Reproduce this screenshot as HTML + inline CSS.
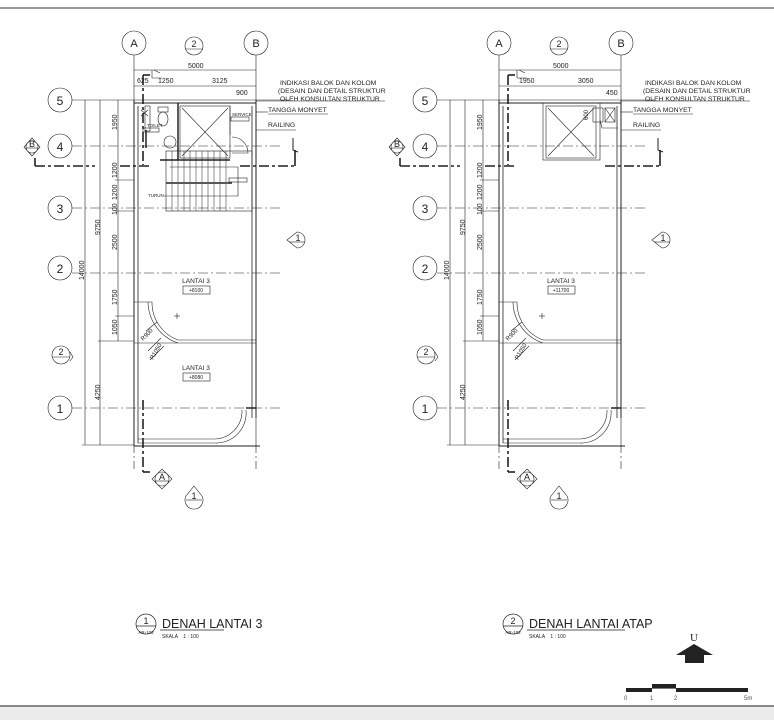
<!DOCTYPE html>
<html><head><meta charset="utf-8"><style>
html,body{margin:0;padding:0;background:#fff;}
svg{display:block;font-family:"Liberation Sans",sans-serif;}
</style></head><body>
<svg width="774" height="720" viewBox="0 0 774 720" xmlns="http://www.w3.org/2000/svg">
<rect width="774" height="720" fill="#fff"/>
<line x1="0" y1="8" x2="774" y2="8" stroke="#333" stroke-width="1"/>
<rect x="0" y="707" width="774" height="13" fill="#ececec"/>
<line x1="0" y1="706" x2="774" y2="706" stroke="#444" stroke-width="1.2"/>

<defs>
<g id="common" fill="none" stroke="#222" stroke-width="0.6">
  <circle cx="134" cy="43" r="12" fill="#fff"/>
  <circle cx="256" cy="43" r="12" fill="#fff"/>
  <circle cx="194" cy="46" r="9" fill="#fff"/>
  <line x1="185" y1="49" x2="203" y2="49"/>
  <line x1="134" y1="55" x2="134" y2="110"/>
  <line x1="256" y1="55" x2="256" y2="110"/>
  <line x1="134" y1="445" x2="134" y2="470" stroke-dasharray="8,3,2,3"/>
  <line x1="256" y1="445" x2="256" y2="470" stroke-dasharray="8,3,2,3"/>
  <line x1="134" y1="70" x2="256" y2="70"/>
  <line x1="134" y1="86" x2="256" y2="86"/>
  <g>
    <circle cx="60" cy="100" r="12" fill="#fff"/><line x1="72" y1="100" x2="290" y2="100"/>
    <circle cx="60" cy="146" r="12" fill="#fff"/><line x1="72" y1="146" x2="282" y2="146" stroke-dasharray="10,3,2,3"/>
    <circle cx="60" cy="208" r="12" fill="#fff"/><line x1="72" y1="208" x2="282" y2="208" stroke-dasharray="10,3,2,3"/>
    <circle cx="60" cy="268" r="12" fill="#fff"/><line x1="72" y1="273" x2="282" y2="273" stroke-dasharray="10,3,2,3"/>
    <circle cx="60" cy="408" r="12" fill="#fff"/><line x1="72" y1="408" x2="282" y2="408" stroke-dasharray="10,3,2,3"/>
    <circle cx="61" cy="355" r="9" fill="#fff"/><line x1="52" y1="357" x2="70" y2="357"/>
    <path d="M70 352 L73 357 L70 361"/>
  </g>
  <line x1="85" y1="100" x2="85" y2="445"/>
  <line x1="100" y1="100" x2="100" y2="445"/>
  <line x1="118" y1="100" x2="118" y2="341"/>
  <line x1="82" y1="445" x2="134" y2="445"/>
  <line x1="98" y1="341" x2="134" y2="341"/>
  <line x1="115" y1="316" x2="134" y2="316"/>
  <line x1="115" y1="180" x2="134" y2="180"/>
  <line x1="115" y1="211" x2="134" y2="211"/>
  <line x1="134" y1="100" x2="134" y2="446" stroke-width="1"/>
  <line x1="138" y1="106" x2="138" y2="443" stroke-width="0.8"/>
  <line x1="256" y1="100" x2="256" y2="418" stroke-width="1"/>
  <line x1="252" y1="106" x2="252" y2="418" stroke-width="0.8"/>
  <line x1="134" y1="446" x2="260" y2="446" stroke-width="1"/>
  <line x1="134" y1="103" x2="256" y2="103" stroke-width="1"/>
  <path d="M138 443 L215 443 A30 30 0 0 0 246 410 M242 410 L242 410 A28 28 0 0 1 214 439 L138 439" />
  <line x1="246" y1="408" x2="256" y2="408" stroke-width="1.5"/>
  <line x1="256" y1="418" x2="256" y2="446"/>
  <path d="M134 302 L152 302 L152 302 A40 40 0 0 0 178 340 L256 340 M134 343 L256 343 M148 302 A44 44 0 0 0 178 343" />
  <path d="M146 331 L157 322 M148 351 L161 338 M150 360 L164 346"/>
  <line x1="174" y1="316" x2="180" y2="316"/><line x1="177" y1="313" x2="177" y2="319"/>
  <path d="M35 166 L95 166 M120 166 L150 166 M240 166 L295 166" stroke-width="1.6" stroke-dasharray="10,3,3,3"/>
  <path d="M35 166 L35 158 M295 166 L295 150" stroke-width="1.6"/>
  <path d="M293 138 L293 150 L298 152" stroke-width="1"/>
  <path d="M32 138 L40 147 L32 156 L24 147 Z" fill="#fff"/>
  <circle cx="32" cy="147" r="6" fill="#fff"/>
  <line x1="26" y1="148" x2="38" y2="148"/>
  <line x1="143" y1="75" x2="143" y2="165" stroke-width="1.6" stroke-dasharray="10,3,3,3"/>
  <path d="M143 75 L150 75" stroke-width="1.6"/>
  <path d="M152 70 L152 78 L162 78 M154 70 L160 73" />
  <line x1="143" y1="400" x2="143" y2="472" stroke-width="1.6" stroke-dasharray="10,3,3,3"/>
  <path d="M143 472 L150 472" stroke-width="1.6"/>
  <path d="M162 469 L172 479 L162 489 L152 479 Z" fill="#fff"/><circle cx="162" cy="479" r="7" fill="#fff"/><line x1="155" y1="481" x2="169" y2="481"/>
  <path d="M194 486 L202 496 A9 9 0 1 1 186 496 Z" fill="#fff"/><line x1="186" y1="500" x2="202" y2="500"/>
  <path d="M287 240 L297 232 A8 8 0 1 1 297 248 Z" fill="#fff"/><line x1="289" y1="242" x2="305" y2="242"/>
  <line x1="256" y1="101" x2="385" y2="101"/>
  <line x1="256" y1="112" x2="268" y2="112"/>
  <line x1="268" y1="114" x2="328" y2="114"/>
  <line x1="256" y1="130" x2="296" y2="130"/>
</g>
</defs>

<use href="#common"/>
<use href="#common" x="365"/>

<g font-size="11" fill="#222" text-anchor="middle">
  <text x="134" y="47">A</text><text x="256" y="47">B</text>
  <text x="499" y="47">A</text><text x="621" y="47">B</text>
  <text x="194" y="47" font-size="9">2</text><text x="559" y="47" font-size="9">2</text>
  <g font-size="12">
  <text x="60" y="105">5</text><text x="60" y="151">4</text><text x="60" y="213">3</text><text x="60" y="273">2</text><text x="60" y="413">1</text>
  <text x="425" y="105">5</text><text x="425" y="151">4</text><text x="425" y="213">3</text><text x="425" y="273">2</text><text x="425" y="413">1</text>
  </g>
  <g font-size="9"><text x="61" y="355">2</text><text x="426" y="355">2</text>
  <text x="32" y="147">B</text><text x="397" y="147">B</text>
  <text x="162" y="480">A</text><text x="527" y="480">A</text>
  <text x="194" y="499">1</text><text x="559" y="499">1</text>
  <text x="298" y="241">1</text><text x="663" y="241">1</text></g>
</g>

<g font-size="7" fill="#222">
  <text x="188" y="68">5000</text><text x="553" y="68">5000</text>
  <text x="137" y="83">625</text><text x="158" y="83">1250</text><text x="212" y="83">3125</text>
  <text x="519" y="83">1950</text><text x="578" y="83">3050</text>
  <text x="236" y="95">900</text><text x="606" y="95">450</text>
  <g font-size="6.8">
  <text x="280" y="85">INDIKASI BALOK DAN KOLOM</text><text x="278" y="93">(DESAIN DAN DETAIL STRUKTUR</text><text x="280" y="101">OLEH KONSULTAN STRUKTUR</text>
  <text x="645" y="85">INDIKASI BALOK DAN KOLOM</text><text x="643" y="93">(DESAIN DAN DETAIL STRUKTUR</text><text x="645" y="101">OLEH KONSULTAN STRUKTUR</text>
  <text x="268" y="112">TANGGA MONYET</text><text x="268" y="127">RAILING</text>
  <text x="633" y="112">TANGGA MONYET</text><text x="633" y="127">RAILING</text>
  </g>
</g>
<g font-size="7" fill="#222">
  <text transform="translate(117,130) rotate(-90)">1950</text>
  <text transform="translate(117,178) rotate(-90)">1200</text>
  <text transform="translate(117,200) rotate(-90)">1200</text>
  <text transform="translate(117,215) rotate(-90)">100</text>
  <text transform="translate(117,250) rotate(-90)">2500</text>
  <text transform="translate(117,305) rotate(-90)">1750</text>
  <text transform="translate(117,335) rotate(-90)">1050</text>
  <text transform="translate(100,235) rotate(-90)">9750</text>
  <text transform="translate(84,280) rotate(-90)">14000</text>
  <text transform="translate(100,400) rotate(-90)">4250</text>
  <text transform="translate(482,130) rotate(-90)">1950</text>
  <text transform="translate(482,178) rotate(-90)">1200</text>
  <text transform="translate(482,200) rotate(-90)">1200</text>
  <text transform="translate(482,215) rotate(-90)">100</text>
  <text transform="translate(482,250) rotate(-90)">2500</text>
  <text transform="translate(482,305) rotate(-90)">1750</text>
  <text transform="translate(482,335) rotate(-90)">1050</text>
  <text transform="translate(465,235) rotate(-90)">9750</text>
  <text transform="translate(449,280) rotate(-90)">14000</text>
  <text transform="translate(465,400) rotate(-90)">4250</text>
  <text transform="translate(143,341) rotate(-45)" font-size="6">R900</text>
  <text transform="translate(153,360) rotate(-60)" font-size="6">R1050</text>
  <text transform="translate(508,341) rotate(-45)" font-size="6">R900</text>
  <text transform="translate(518,360) rotate(-60)" font-size="6">R1050</text>
  <text transform="translate(588,120) rotate(-90)" font-size="6">600</text>
</g>

<g font-size="6.5" fill="#222" text-anchor="middle" stroke="none">
  <text x="196" y="283">LANTAI 3</text><text x="196" y="370">LANTAI 3</text><text x="561" y="283">LANTAI 3</text>
  <text x="196" y="292" font-size="5">+8100</text><text x="196" y="379" font-size="5">+8080</text><text x="561" y="292" font-size="5">+11700</text>
</g>
<g fill="none" stroke="#222" stroke-width="0.6">
  <rect x="183" y="286" width="27" height="8"/><rect x="183" y="373" width="27" height="8"/><rect x="548" y="286" width="27" height="8"/>
  <rect x="180" y="106" width="50" height="52"/><path d="M182 108 L228 156 M228 108 L182 156"/>
  <line x1="178" y1="103" x2="178" y2="160" stroke-width="1.5"/>
  <line x1="160" y1="160" x2="230" y2="160" stroke-width="1.5"/>
  <rect x="145" y="106" width="5" height="25"/><path d="M141 110 L148 116 M141 116 L148 110"/>
  <ellipse cx="163" cy="119" rx="5" ry="7"/><rect x="158" y="107" width="10" height="5"/>
  <circle cx="170" cy="142" r="6"/>
  <rect x="143" y="128" width="16" height="4"/>
  <line x1="146" y1="130" x2="146" y2="148" stroke-width="1.5"/>
  <path d="M232 137 A16 16 0 0 1 248 153 L232 153"/>
  <rect x="231" y="117" width="18" height="4"/>
  <line x1="230" y1="106" x2="230" y2="135"/>
  <rect x="166" y="151" width="86" height="60"/>
  <g stroke-width="0.5">
  <path d="M172 151V182 M178 151V182 M184 151V182 M190 151V182 M196 151V182 M202 151V182 M208 151V182 M214 151V182 M220 151V182 M226 151V182
           M172 184V211 M178 184V211 M184 184V211 M190 184V211 M196 184V211 M202 184V211 M208 184V211 M214 184V211 M220 184V211 M226 184V211"/>
  </g>
  <line x1="166" y1="183" x2="232" y2="183" stroke-width="1.5"/>
  <path d="M170 167 L238 167 L238 196 L164 196"/>
  <rect x="229" y="178" width="18" height="4"/>
  <rect x="546" y="106" width="50" height="52"/><path d="M548 108 L594 156 M594 108 L548 156"/>
  <rect x="543" y="103" width="57" height="57"/>
  <rect x="593" y="108" width="10" height="14"/><rect x="605" y="108" width="10" height="14"/><path d="M605 108 L615 122 M615 108 L605 122"/>
  <path d="M600 120 L602 128 L618 128"/>
</g>
<g font-size="4.5" fill="#222"><text x="147" y="127">TOILET</text><text x="232" y="116">SERVICE</text><text x="148" y="197">TURUN</text></g>

<g fill="none" stroke="#222" stroke-width="0.7">
  <circle cx="146" cy="624" r="10"/><line x1="136" y1="626" x2="156" y2="626"/><line x1="160" y1="630" x2="224" y2="630"/>
  <circle cx="513" cy="624" r="10"/><line x1="503" y1="626" x2="523" y2="626"/><line x1="527" y1="630" x2="625" y2="630"/>
</g>
<g fill="#222">
  <text x="146" y="624" font-size="9" text-anchor="middle">1</text><text x="146" y="634" font-size="4.5" text-anchor="middle">AR-102</text>
  <text x="513" y="624" font-size="9" text-anchor="middle">2</text><text x="513" y="634" font-size="4.5" text-anchor="middle">AR-102</text>
  <text x="162" y="628" font-size="12.5">DENAH LANTAI 3</text>
  <text x="529" y="628" font-size="12.5">DENAH LANTAI ATAP</text>
  <text x="162" y="638" font-size="5">SKALA &#160;&#160;&#160;1 : 100</text>
  <text x="529" y="638" font-size="5">SKALA &#160;&#160;&#160;1 : 100</text>
  <text x="694" y="641" font-size="11" text-anchor="middle" font-family="Liberation Serif,serif">U</text>
  <path d="M694 644 L713 655 L704 655 L704 663 L685 663 L685 655 L676 655 Z"/>
  <rect x="626" y="688" width="26" height="4"/><rect x="652" y="684" width="24" height="4"/><rect x="676" y="688" width="72" height="4"/>
  <rect x="652" y="688" width="24" height="0.6"/>
  <g font-size="6" fill="#555"><text x="624" y="700">0</text><text x="650" y="700">1</text><text x="674" y="700">2</text><text x="744" y="700">5m</text></g>
</g>
</svg>
</body></html>
